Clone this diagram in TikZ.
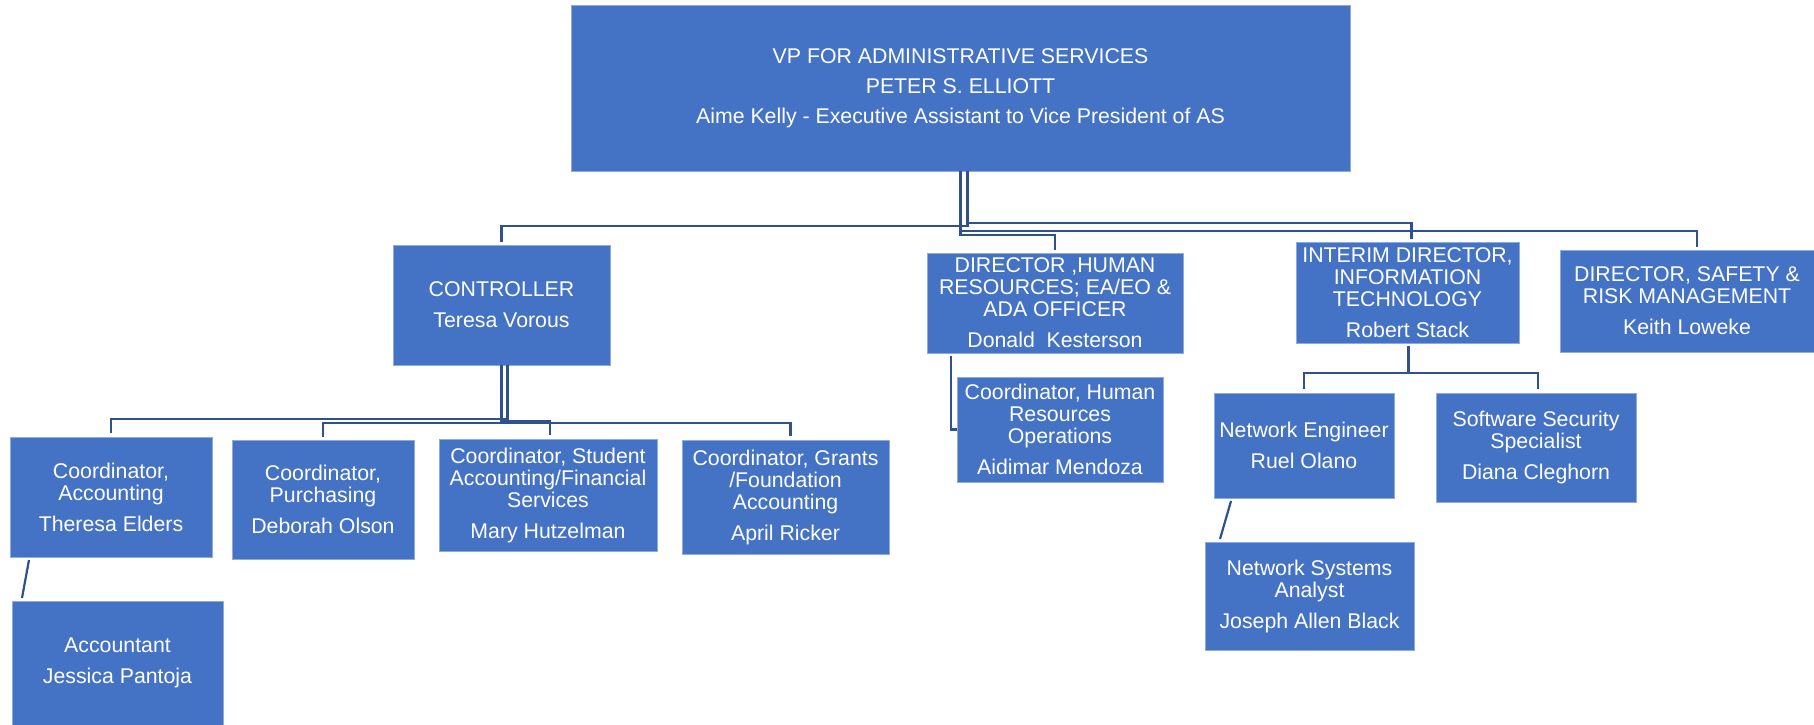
\documentclass[tikz,border=0pt]{standalone}
\usepackage{fontspec}
\setmainfont{Liberation Sans}
\usetikzlibrary{calc}
\definecolor{boxblue}{RGB}{68,114,196}
\definecolor{boxedge}{RGB}{143,170,220}
\definecolor{linecol}{RGB}{47,82,143}
\newcommand{\fsz}{\fontsize{21.3}{22}\selectfont}
\tikzset{
  orgbox/.style={fill=boxblue, draw=boxedge, line width=1pt, text=white, align=center,
    inner sep=0pt, outer sep=0pt, font=\fsz},
  conn/.style={draw=linecol, line width=2.2pt}
}
\begin{document}
\begin{tikzpicture}[x=1pt,y=-1pt]
\useasboundingbox (0,0) rectangle (1814,725);
% nodes
\node[orgbox, minimum width=779, minimum height=165] (vp) at (960.5,88.5)
  {VP FOR ADMINISTRATIVE SERVICES\\[8pt]PETER S. ELLIOTT\\[8pt]Aime Kelly - Executive Assistant to Vice President of AS};
\node[orgbox, minimum width=217, minimum height=120] (ctrl) at (501.5,305)
  {CONTROLLER\\[9pt]Teresa Vorous};
\node[orgbox, minimum width=256, minimum height=100] (hr) at (1055,303)
  {DIRECTOR ,HUMAN\\RESOURCES; EA/EO \&\\ADA OFFICER\\[9pt]Donald\ \ Kesterson};
\node[orgbox, minimum width=223, minimum height=101] (it) at (1407.5,292.5)
  {INTERIM DIRECTOR,\\INFORMATION\\TECHNOLOGY\\[9pt]Robert Stack};
\node[orgbox, minimum width=254, minimum height=102] (safety) at (1687,301)
  {DIRECTOR, SAFETY \&\\RISK MANAGEMENT\\[9pt]Keith Loweke};
\node[orgbox, minimum width=202, minimum height=120] (ca) at (111,497)
  {Coordinator,\\Accounting\\[9pt]Theresa Elders};
\node[orgbox, minimum width=182, minimum height=119] (pu) at (323,499.5)
  {Coordinator,\\Purchasing\\[9pt]Deborah Olson};
\node[orgbox, minimum width=218, minimum height=112] (st) at (548,495)
  {Coordinator, Student\\Accounting/Financial\\Services\\[9pt]Mary Hutzelman};
\node[orgbox, minimum width=207, minimum height=114] (gr) at (785.5,497)
  {Coordinator, Grants\\/Foundation\\Accounting\\[9pt]April Ricker};
\node[orgbox, minimum width=211, minimum height=124] (acc) at (117.5,663)
  {Accountant\\[9pt]Jessica Pantoja};
\node[orgbox, minimum width=206, minimum height=105] (hrc) at (1060,429.5)
  {Coordinator, Human\\Resources\\Operations\\[9pt]Aidimar Mendoza};
\node[orgbox, minimum width=180, minimum height=105] (ne) at (1304,445.5)
  {Network Engineer\\[9pt]Ruel Olano};
\node[orgbox, minimum width=200, minimum height=109] (ss) at (1536,447.5)
  {Software Security\\Specialist\\[9pt]Diana Cleghorn};
\node[orgbox, minimum width=209, minimum height=108] (nsa) at (1309.5,596)
  {Network Systems\\Analyst\\[9pt]Joseph Allen Black};
% connectors from VP
\draw[conn] ($(vp.south)+(7,0)$) -- ++(0,55) -| ($(ctrl.north)+(0,-3)$);
\draw[conn] ($(vp.south)+(7,0)$) -- ++(0,52) -| ($(it.north)+(4,-3)$);
\draw[conn] (vp.south) -- ++(0,60) -| ($(safety.north)+(10,-3)$);
\draw[conn] (vp.south) -- ++(0,64) -| ($(hr.north)+(0,-3)$);
% connectors from controller
\draw[conn] ($(ctrl.south)+(6,0)$) -- ++(0,54) -| ($(ca.north)+(0,-4)$);
\draw[conn] (ctrl.south) -- ++(0,58) -| ($(pu.north)+(0,-3)$);
\draw[conn] (ctrl.south) -- ++(0,56) -| ($(st.north)+(2,-4)$);
\draw[conn] (ctrl.south) -- ++(0,58) -| ($(gr.north)+(5,-4)$);
% HR
\draw[conn] ($(hr.south west)+(24,3)$) |- (hrc.west);
% IT
\draw[conn] ($(it.south)+(1,3)$) -- ++(0,27) -| ($(ne.north)+(0,-4)$);
\draw[conn] ($(it.south)+(1,3)$) -- ++(0,27) -| ($(ss.north)+(2,-4)$);
% diagonals
\draw[conn] ($(ne.south west)+(17,3)$) -- ($(nsa.north west)+(15,-3)$);
\draw[conn] ($(ca.south west)+(19,3)$) -- ($(acc.north west)+(10,-3)$);
\end{tikzpicture}
\end{document}
